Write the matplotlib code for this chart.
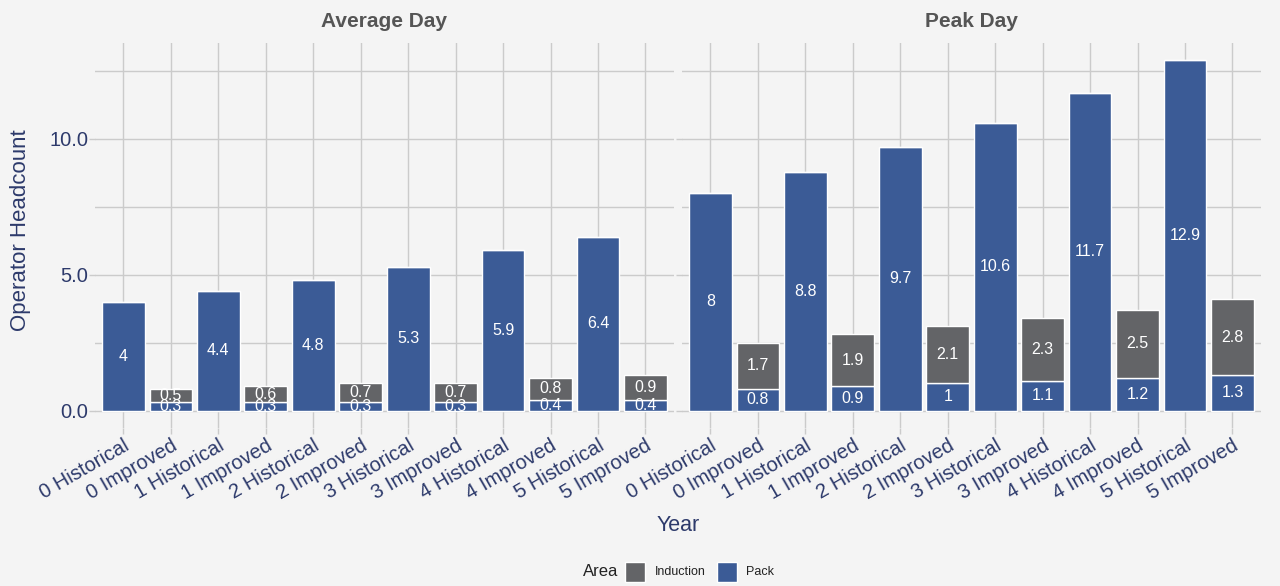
import numpy as np
import matplotlib
matplotlib.use("Agg")
from matplotlib import pyplot as plt
import matplotlib.ticker as ticker
from matplotlib.patches import Rectangle

plt.rcParams['font.family'] = ['Liberation Sans', 'DejaVu Sans']

categories = ["0 Historical", "0 Improved", "1 Historical", "1 Improved",
              "2 Historical", "2 Improved", "3 Historical", "3 Improved",
              "4 Historical", "4 Improved", "5 Historical", "5 Improved"]
panels = ["Average Day", "Peak Day"]

# pack (bottom) and induction (top) per category
avg_pack = [4, 0.3, 4.4, 0.3, 4.8, 0.3, 5.3, 0.3, 5.9, 0.4, 6.4, 0.4]
avg_induction = [0, 0.5, 0, 0.6, 0, 0.7, 0, 0.7, 0, 0.8, 0, 0.9]
peak_pack = [8, 0.8, 8.8, 0.9, 9.7, 1, 10.6, 1.1, 11.7, 1.2, 12.9, 1.3]
peak_induction = [0, 1.7, 0, 1.9, 0, 2.1, 0, 2.3, 0, 2.5, 0, 2.8]

c_pack = "#3b5b96"
c_ind = "#636467"
bg = "#f4f4f4"
grid_c = "#cbcbcb"
navy = "#2d3a6b"

fig = plt.figure(figsize=(12.8, 5.86), dpi=100, facecolor=bg)
ax1 = fig.add_axes([0.0742, 0.2696, 0.4523, 0.6575])
ax2 = fig.add_axes([0.5328, 0.2696, 0.4523, 0.6575])

data = [(avg_pack, avg_induction), (peak_pack, peak_induction)]
x = np.arange(len(categories))

for i, ax in enumerate([ax1, ax2]):
    pack, ind = data[i]
    ax.set_facecolor(bg)
    ax.set_axisbelow(True)
    ax.bar(x, pack, width=0.9, color=c_pack, edgecolor="white", lw=1.0, zorder=3)
    ax.bar(x, ind, width=0.9, bottom=pack, color=c_ind, edgecolor="white", lw=1.0, zorder=3)
    for j in range(len(x)):
        if pack[j] > 0:
            ax.text(x[j], pack[j] / 2, "%g" % pack[j], color="white", fontsize=11.5,
                    ha="center", va="center", zorder=4)
        if ind[j] > 0:
            ax.text(x[j], pack[j] + ind[j] / 2, "%g" % ind[j], color="white", fontsize=11.5,
                    ha="center", va="center", zorder=4)
    ax.set_xlim(-0.6, 11.6)
    ax.set_ylim(-0.645, 13.545)
    ax.yaxis.set_major_locator(ticker.MultipleLocator(5))
    ax.yaxis.set_minor_locator(ticker.MultipleLocator(2.5))
    ax.yaxis.set_major_formatter(ticker.FormatStrFormatter("%.1f"))
    ax.grid(True, which="both", color=grid_c, lw=1.0)
    for s in ax.spines.values():
        s.set_visible(False)
    ax.set_xticks(x)
    ax.set_xticklabels(categories, rotation=30, ha="right", rotation_mode="anchor",
                       fontsize=14.5, color=navy)
    ax.tick_params(axis="both", which="both", color=grid_c, length=4, width=1.0, pad=2)
    ax.tick_params(axis="y", labelsize=14.5, labelcolor=navy, pad=1)
    ax.tick_params(axis="y", which="minor", length=0)
    ax.set_title(panels[i], fontsize=15, fontweight="bold", color="#555555", pad=11)

ax2.tick_params(axis="y", labelleft=False)

fig.text(0.0164, 0.6075, "Operator Headcount", rotation=90, ha="center", va="center",
         fontsize=16, color=navy)
fig.text(0.53, 0.104, "Year", ha="center", va="center", fontsize=15.5, color=navy)

# legend
fig.text(583 / 1280, 1 - 572 / 586, "Area", ha="left", va="center", fontsize=12, color="#222222")
fig.patches.append(Rectangle((625 / 1280, 1 - 582 / 586), 20 / 1280, 20 / 586,
                             transform=fig.transFigure, facecolor=c_ind, edgecolor="white", lw=1))
fig.text(655 / 1280, 1 - 572 / 586, "Induction", ha="left", va="center", fontsize=9, color="#222222")
fig.patches.append(Rectangle((717 / 1280, 1 - 582 / 586), 20 / 1280, 20 / 586,
                             transform=fig.transFigure, facecolor=c_pack, edgecolor="white", lw=1))
fig.text(746 / 1280, 1 - 572 / 586, "Pack", ha="left", va="center", fontsize=9, color="#222222")

plt.savefig("out.png", dpi=100, facecolor=bg)
